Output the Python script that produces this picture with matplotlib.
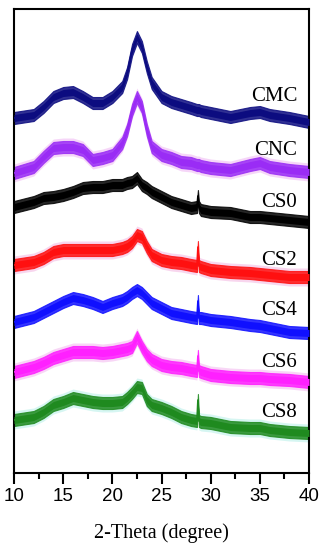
import numpy as np
import matplotlib
matplotlib.use('Agg')
import matplotlib.pyplot as plt

# 2-theta grid (degree)
two_theta = [10, 12, 13, 14, 15, 16, 17, 18, 19, 20, 21, 21.5, 22, 22.5, 23, 23.5,
             24, 25, 26, 27, 28, 28.6, 28.7, 28.8, 29, 30, 32, 34, 35, 36, 38, 40]

# stacked intensities (a.u., offset)
cmc = [355, 358, 366, 376, 380, 381, 376, 370, 370, 376, 386, 400, 423, 436, 426, 406,
       390, 376, 371, 368, 365, 363, 363, 363, 362, 360, 356, 360, 361, 358, 355, 351]
cnc = [300, 306, 316, 325, 326, 326, 323, 313, 315, 318, 330, 343, 363, 376, 366, 343,
       326, 318, 315, 311, 310, 308, 308, 308, 307, 305, 303, 308, 310, 306, 303, 301]
cs0 = [266, 271, 275, 276, 278, 281, 285, 286, 286, 288, 288, 290, 291, 295, 288, 285,
       281, 276, 271, 268, 265, 266, 277, 266, 263, 261, 260, 256, 256, 255, 253, 251]
cs2 = [208, 211, 215, 221, 223, 223, 223, 223, 223, 223, 225, 227, 231, 238, 236, 226,
       218, 213, 211, 210, 208, 207, 226, 207, 206, 203, 201, 200, 199, 198, 196, 196]
cs4 = [151, 156, 161, 166, 171, 175, 173, 170, 166, 170, 173, 176, 180, 183, 180, 175,
       170, 165, 160, 158, 156, 155, 172, 155, 155, 153, 151, 148, 147, 145, 141, 140]
cs6 = [101, 106, 110, 115, 118, 121, 121, 121, 120, 121, 123, 124, 126, 136, 126, 118,
       113, 108, 106, 105, 103, 102, 117, 102, 101, 98, 96, 95, 95, 94, 93, 91]
cs8 = [53, 56, 61, 68, 71, 75, 73, 71, 70, 70, 71, 75, 80, 86, 85, 73,
       68, 65, 61, 56, 53, 52, 73, 52, 51, 50, 46, 45, 45, 43, 41, 40]

names = ['CMC', 'CNC', 'CS0', 'CS2', 'CS4', 'CS6', 'CS8']
series = [cmc, cnc, cs0, cs2, cs4, cs6, cs8]
colors = ['#0c0c80', '#9a2cf5', '#000000', '#ff1010', '#1010ff', '#ff20ff', '#1f8a1f']
halos = [None, '#f6d6f8', None, '#f8d6ee', None, '#f8d6f6', '#d6f6f2']
label_y = [377, 323, 271, 213, 163, 111, 61]

fig = plt.figure(figsize=(3.26, 5.5), dpi=100)
ax = fig.add_axes([0.043, 0.14, 0.905, 0.8436])

x = np.array(two_theta)
for name, y, c, h, ly in zip(names, series, colors, halos, label_y):
    y = np.array(y)
    if h is not None:
        ax.fill_between(x, y - 9, y + 9, color=h, lw=0, zorder=1)
    ax.fill_between(x, y - 6, y + 6, color=c, lw=0.8, edgecolor=c, alpha=0.85, zorder=2)
    ax.fill_between(x, y - 3.5, y + 3.5, color=c, lw=0, zorder=3)
    ax.plot(x, y, color=c, lw=1.2, zorder=3)
    ax.text(38.8, ly, name, ha='right', va='center', fontsize=15,
            family='Liberation Serif', zorder=4)

ax.set_xlim(10, 40)
ax.set_ylim(0, 464)
ax.set_yticks([])
ax.set_xticks([10, 15, 20, 25, 30, 35, 40])
ax.set_xticks(np.arange(12.5, 40, 5), minor=True)
ax.tick_params(axis='x', which='major', direction='out', length=8, width=1.5,
               labelsize=13.5, pad=3)
ax.tick_params(axis='x', which='minor', direction='out', length=4.5, width=1.5)
for lab in ax.get_xticklabels():
    lab.set_family('Liberation Sans')
for s in ax.spines.values():
    s.set_linewidth(1.5)

ax.set_xlabel('2-Theta (degree)', fontsize=14.5, family='Liberation Serif', labelpad=13)

fig.savefig('out.png', dpi=100)
